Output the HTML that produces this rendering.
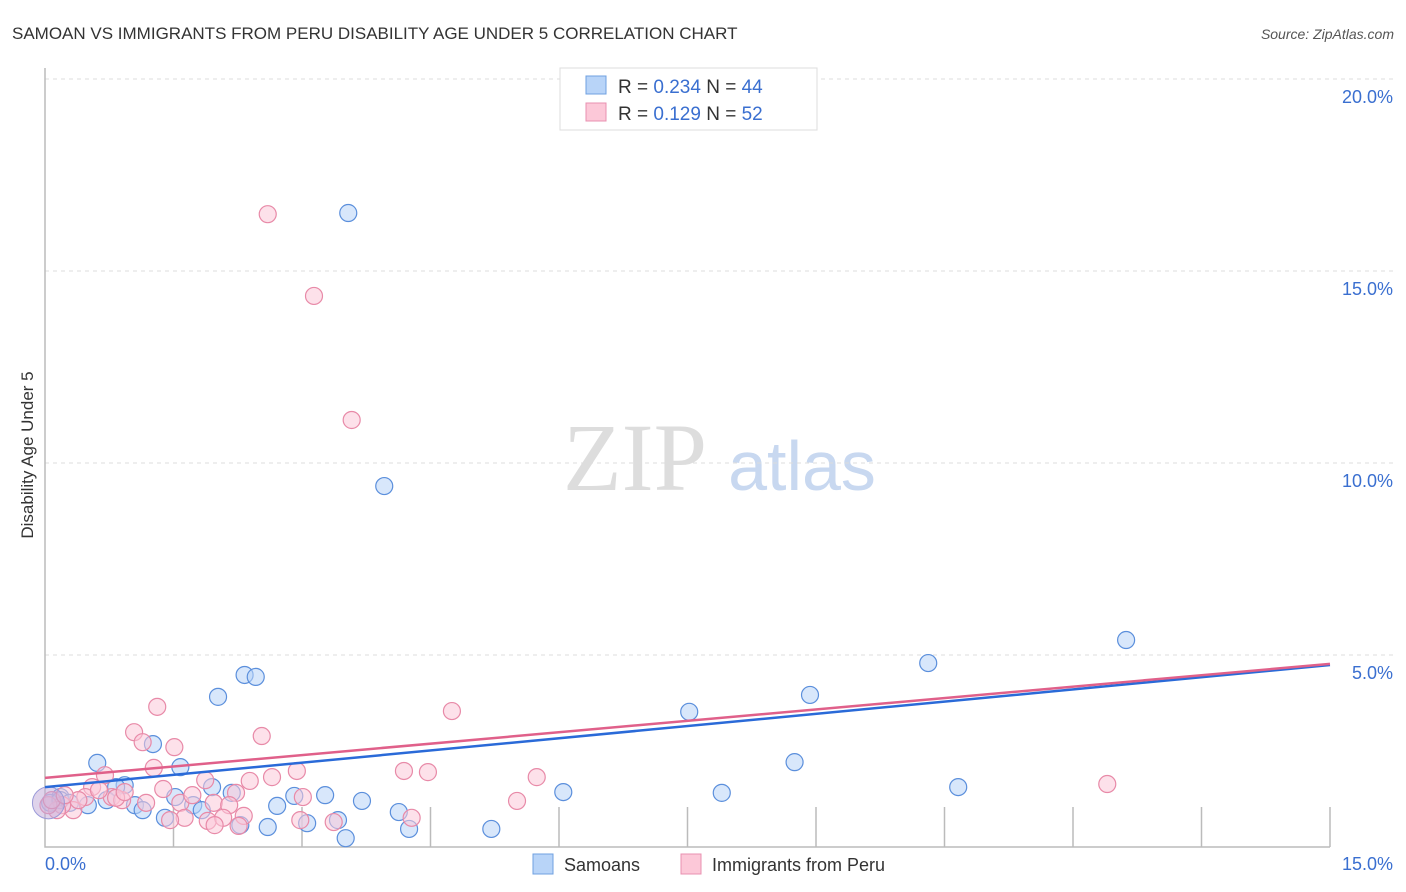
<!DOCTYPE html>
<html><head><meta charset="utf-8"><style>
body{margin:0;background:#fff;font-family:"Liberation Sans",sans-serif;}
svg{display:block}
</style></head><body>
<svg id="chart" width="1406" height="892" font-family="Liberation Sans, sans-serif">
<text x="12" y="39" font-size="17" fill="#333">SAMOAN VS IMMIGRANTS FROM PERU DISABILITY AGE UNDER 5 CORRELATION CHART</text>
<text x="1394" y="39" font-size="14" fill="#555" text-anchor="end" font-style="italic">Source: ZipAtlas.com</text>
<text transform="translate(33,455) rotate(-90)" font-size="17" fill="#333" text-anchor="middle">Disability Age Under 5</text>
<g>
<text x="635" y="490" font-size="96" fill="#ddd" font-family="Liberation Serif, serif" text-anchor="middle">ZIP</text>
<text x="802" y="490" font-size="70" fill="#c8d8f0" text-anchor="middle">atlas</text>
</g>
<g id="grid"></g>
<g id="axes"></g>
<g id="marks"></g>
<g id="trends"></g>
<g>
<rect x="560" y="68" width="257" height="62" fill="#fff" stroke="#ddd"/>
<rect x="586" y="76" width="20" height="18" fill="#b8d4f8" stroke="#6fa0e0"/>
<text x="618" y="93" font-size="19" fill="#333">R = <tspan fill="#3a6fd0">0.234</tspan>   N = <tspan fill="#3a6fd0">44</tspan></text>
<rect x="586" y="103" width="20" height="18" fill="#fcc8d8" stroke="#e890b0"/>
<text x="618" y="120" font-size="19" fill="#333">R =  <tspan fill="#3a6fd0">0.129</tspan>   N =  <tspan fill="#3a6fd0">52</tspan></text>
</g>
<g>
<rect x="533" y="854" width="20" height="20" fill="#b8d4f8" stroke="#6fa0e0"/>
<text x="564" y="871" font-size="18" fill="#333">Samoans</text>
<rect x="681" y="854" width="20" height="20" fill="#fcc8d8" stroke="#e890b0"/>
<text x="712" y="871" font-size="18" fill="#333">Immigrants from Peru</text>
</g>
</svg>
<script>
const xTicks=[0,15];
const xTickLabels=["0.0%","15.0%"];
const yTicks=[5,10,15,20];
const yTickLabels=["5.0%","10.0%","15.0%","20.0%"];
const samoanX=[3.54,3.96,12.62,10.31,2.33,2.46,2.02,8.93,7.52,1.26,0.61,1.58,8.75,6.05,7.90,10.66,1.95,0.93,0.83,1.52,2.91,3.27,3.70,0.72,0.18,0.06,0.50,1.05,1.73,1.83,1.14,2.18,2.71,4.13,3.42,3.06,1.40,2.28,2.60,4.25,5.21,3.51,0.18,0.29];
const samoanY=[16.51,9.40,5.39,4.79,4.48,4.43,3.91,3.96,3.52,2.68,2.19,2.08,2.21,1.43,1.41,1.56,1.56,1.61,1.56,1.30,1.33,1.35,1.20,1.22,1.30,1.15,1.09,1.09,1.09,0.96,0.96,1.41,1.07,0.91,0.70,0.62,0.76,0.57,0.52,0.47,0.47,0.23,1.22,1.15];
const peruX=[2.60,3.14,3.58,4.75,1.31,1.04,2.53,1.14,1.51,1.27,0.70,4.19,4.47,5.74,12.40,2.65,2.94,2.39,1.38,0.55,1.87,0.78,1.58,0.90,2.23,1.72,0.47,1.18,0.33,0.20,1.97,2.15,1.90,2.08,2.32,3.01,2.98,3.37,4.28,5.51,1.63,1.46,1.98,2.26,0.14,0.04,0.08,0.39,0.23,0.63,0.83,0.93];
const peruY=[16.48,14.35,11.12,3.54,3.65,2.99,2.89,2.73,2.60,2.06,1.87,1.98,1.95,1.82,1.64,1.82,1.98,1.72,1.51,1.56,1.74,1.30,1.15,1.22,1.41,1.35,1.30,1.15,0.96,1.09,1.15,1.09,0.68,0.76,0.81,1.30,0.70,0.65,0.76,1.20,0.76,0.70,0.57,0.55,0.96,1.09,1.22,1.22,1.35,1.48,1.28,1.43];
const samoanTrend=[1.56,4.74];
const peruTrend=[1.80,4.77];
const X0=45,X1=1330,Y0=847,PX=192/5;
const sx=v=>X0+(v-0)/15*(X1-X0);
const sy=v=>Y0-v*PX;
const NS="http://www.w3.org/2000/svg";
function mk(tag,attrs,parent){const e=document.createElementNS(NS,tag);for(const k in attrs)e.setAttribute(k,attrs[k]);parent.appendChild(e);return e;}
const grid=document.getElementById('grid'),axes=document.getElementById('axes'),marks=document.getElementById('marks'),trends=document.getElementById('trends');
yTicks.forEach((t,i)=>{
 const l=mk('line',{x1:X0,x2:1394,y1:sy(t),y2:sy(t),stroke:'#ddd','stroke-dasharray':'4,4'},grid);
 
 
 const tx=mk('text',{x:1393,y:sy(t)+24,'font-size':18,fill:'#3a6fd0','text-anchor':'end'},axes);
 tx.textContent=yTickLabels[i];
 
 
});
const ax=mk('path',{d:`M${X0} 68 V${Y0} H${X1}`,stroke:'#bbb',fill:'none','stroke-width':1.5},axes);


for(let i=1;i<=10;i++){
 const v=i*1.5;
 const t=mk('line',{x1:sx(v),x2:sx(v),y1:Y0-40,y2:Y0,stroke:'#bbb','stroke-width':1.5},axes);
 
 
}
xTicks.forEach((t,i)=>{
 const tx=mk('text',{x:i==0?sx(t):1393,y:870,'font-size':18,fill:'#3a6fd0','text-anchor':i==0?'start':'end'},axes);
 tx.textContent=xTickLabels[i];
 
 
});
function pts(xs,ys,fill,stroke,name){
 xs.forEach((x,i)=>{
  const c=mk('circle',{cx:sx(x),cy:sy(ys[i]),r:8.5,fill:fill,'fill-opacity':0.55,stroke:stroke,'stroke-width':1.2},marks);
  
  
 });
}
pts(samoanX,samoanY,'#b8d4f8','#5b8fdc','samoan-point');
pts(peruX,peruY,'#fcc8d8','#e88aa8','peru-point');
const big=mk('circle',{cx:sx(0.04),cy:sy(1.15),r:16,fill:'#c0a8d8','fill-opacity':0.5,stroke:'#9a9ad8'},marks);


const tb=mk('line',{x1:sx(0),x2:sx(15),y1:sy(samoanTrend[0]),y2:sy(samoanTrend[1]),stroke:'#2a6ad8','stroke-width':2.5},trends);


const tp=mk('line',{x1:sx(0),x2:sx(15),y1:sy(peruTrend[0]),y2:sy(peruTrend[1]),stroke:'#e0608a','stroke-width':2.5},trends);


</script>
</body></html>
